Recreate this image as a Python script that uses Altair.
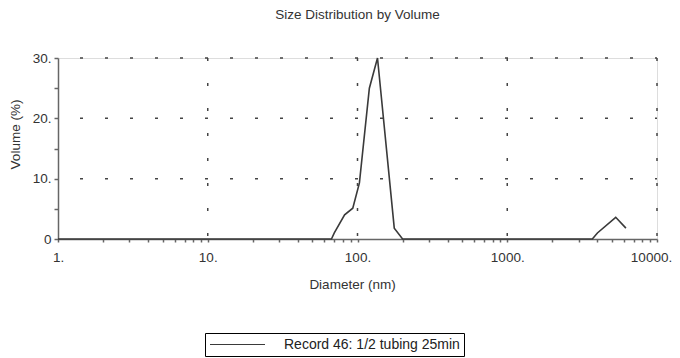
import altair as alt
import pandas as pd

# ---- data ----
diameter_nm = [1, 67, 70, 82, 93, 103, 120, 136, 176, 200, 3700, 4000, 5300, 6200]
volume_pct = [0, 0, 1, 4, 5.1, 9.3, 25, 30, 1.8, 0, 0, 1, 3.6, 1.8]
series_name = "Record 46: 1/2 tubing 25min"

x_grid = [10, 100, 1000, 10000]
y_grid = [10, 20, 30]
x_ticks = [k * 10 ** d for d in range(4) for k in range(1, 10)] + [10000]
x_label_values = [1, 10, 100, 1000, 10000]
y_ticks = [0, 5, 10, 15, 20, 25, 30]

FONT = "Liberation Sans"
FS = 13.5
TEXT = "#333333"
AX = "#666666"
LINE = "#3a3a3a"

df = pd.DataFrame({"d": diameter_nm, "v": volume_pct, "s": series_name})
vg = pd.DataFrame({"d": x_grid})
hg = pd.DataFrame({"v": y_grid})

xscale = alt.Scale(type="log", domain=[1, 10000], nice=False)
yscale = alt.Scale(domain=[0, 30], nice=False, zero=False)

x_axis = alt.Axis(
    values=x_ticks,
    labelExpr="indexof([1,10,100,1000,10000], datum.value) >= 0 ? format(datum.value, 'd') + '.' : ''",
    grid=False,
    domainColor=AX, domainWidth=1.5,
    tickColor=AX, tickSize=3, tickWidth=1.5,
    labelFont=FONT, labelFontSize=FS, labelColor=TEXT, labelPadding=8,
    labelOffset={"condition": {"test": "datum.value == 10000", "value": -6}, "value": 0},
    labelFlush=False, labelOverlap=False,
    title="Diameter (nm)", titleFont=FONT, titleFontSize=FS, titleFontWeight="normal",
    titleColor=TEXT, titleX=294, titleY=45, titleBaseline="middle",
)
y_axis = alt.Axis(
    values=y_ticks,
    labelExpr="datum.value % 10 == 0 ? (datum.value == 0 ? '0' : format(datum.value, 'd') + '.') : ''",
    grid=False,
    domainColor=AX, domainWidth=1.5,
    tickColor=AX, tickSize=4, tickWidth=1.5,
    labelFont=FONT, labelFontSize=FS, labelColor=TEXT, labelPadding=3,
    labelOverlap=False, labelFlush=False,
    title="Volume (%)", titleFont=FONT, titleFontSize=FS, titleFontWeight="normal",
    titleColor=TEXT, titleX=-43, titleY=76, titleBaseline="middle", titleAlign="center",
    titleAngle=270,
)

vgrid = alt.Chart(vg).mark_rule(strokeDash=[3, 22], color="#444444", strokeWidth=1.5).encode(
    x=alt.X("d:Q", scale=xscale, axis=x_axis)
)
hgrid = alt.Chart(hg).mark_rule(strokeDash=[3, 22], strokeDashOffset=1, color="#444444", strokeWidth=1.5).encode(
    y=alt.Y("v:Q", scale=yscale, axis=y_axis)
)

line = alt.Chart(df).mark_line(strokeWidth=1.6).encode(
    x=alt.X("d:Q", scale=xscale, axis=x_axis),
    y=alt.Y("v:Q", scale=yscale, axis=y_axis),
    color=alt.Color(
        "s:N",
        scale=alt.Scale(domain=[series_name], range=[LINE]),
        legend=alt.Legend(
            title=None, orient="none", legendX=147, legendY=275,
            symbolType="stroke", symbolSize=3025, symbolStrokeWidth=1.2,
            clipHeight=15, labelLimit=400,
            labelOffset=18, labelFont=FONT, labelFontSize=14, labelColor="#222222",
            strokeColor="#000000", padding=4, fillColor="white",
        ),
    ),
)

chart = alt.layer(line, vgrid, hgrid).properties(
    width=599,
    height=181,
    title=alt.Title("Size Distribution by Volume", font=FONT, fontSize=FS, fontWeight="normal",
                    color=TEXT, offset=30, anchor="middle", frame="group"),
    autosize=alt.AutoSizeParams(type="none"),
    padding={"left": 50, "top": 50, "right": 15, "bottom": 119},
).configure_view(stroke=None).configure(background="white")

chart.save("out.html", embed_options={"renderer": "svg", "actions": False})
